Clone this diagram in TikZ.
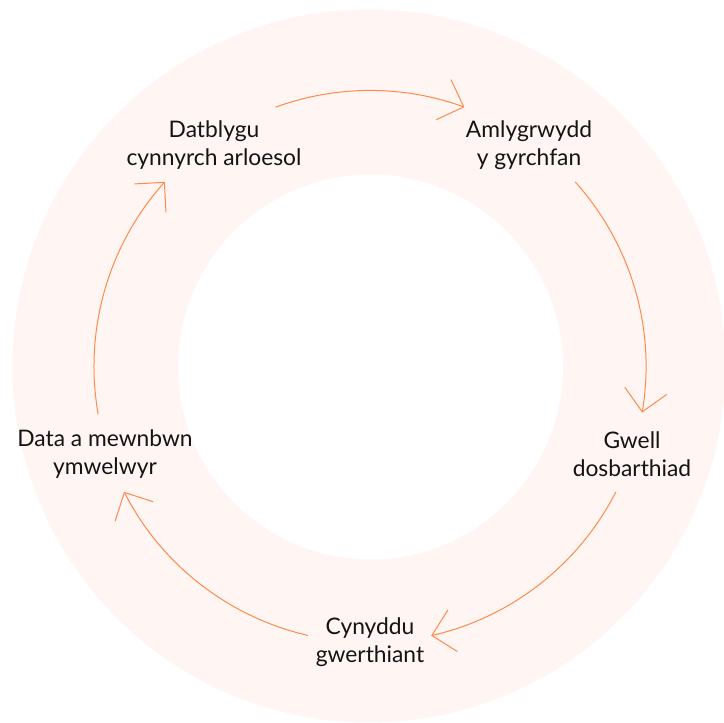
\documentclass[tikz,border=0pt]{standalone}
\usepackage{fontspec}
\setmainfont{Lato}
\usetikzlibrary{arrows.meta}
\definecolor{ringpink}{HTML}{FFF5F3}
\definecolor{arrorange}{HTML}{FF8A4C}
\definecolor{txt}{HTML}{141414}
\begin{document}
\begin{tikzpicture}[x=0.75pt,y=0.75pt,
  lbl/.style={align=center,text=txt,font=\fontsize{17.1pt}{21pt}\selectfont,inner sep=0pt},
  cyc/.style={draw=arrorange,line width=0.75pt,-{Straight Barb[length=16pt,width=32pt,line width=0.75pt]}}]
\useasboundingbox (-370,366.5) rectangle (354,-356.5);
% ring
\fill[ringpink,even odd rule] (-1,0.5) circle[radius=356.5] (0.5,-0.5) circle[radius=192.5];
% labels
\node[lbl] (dat) at (-156,221.5) {Datblygu\\cynnyrch arloesol};
\node[lbl] (aml) at (159,221.5) {Amlygrwydd\\y gyrchfan};
\node[lbl] (gwe) at (262,-87.5) {Gwell\\dosbarthiad};
\node[lbl] (cyn) at (0,-275.5) {Cynyddu\\gwerthiant};
\node[lbl] (data) at (-265,-87.5) {Data a mewnbwn\\ymwelwyr};
% arc end points
\coordinate (s1) at (110:276);
\coordinate (s2) at (42:276);
\coordinate (s3) at (-27:276);
\coordinate (s4) at (-103:276);
\coordinate (s5) at (-170:276);
% connectors
\draw[cyc] (s1) arc[start angle=110,end angle=70,radius=276];
\draw[cyc] (s2) arc[start angle=42,end angle=-9.6,radius=276];
\draw[cyc] (s3) arc[start angle=-27,end angle=-77.2,radius=276];
\draw[cyc] (s4) arc[start angle=-103,end angle=-153,radius=276];
\draw[cyc] (s5) arc[start angle=-170,end angle=-222,radius=276];
\end{tikzpicture}
\end{document}
